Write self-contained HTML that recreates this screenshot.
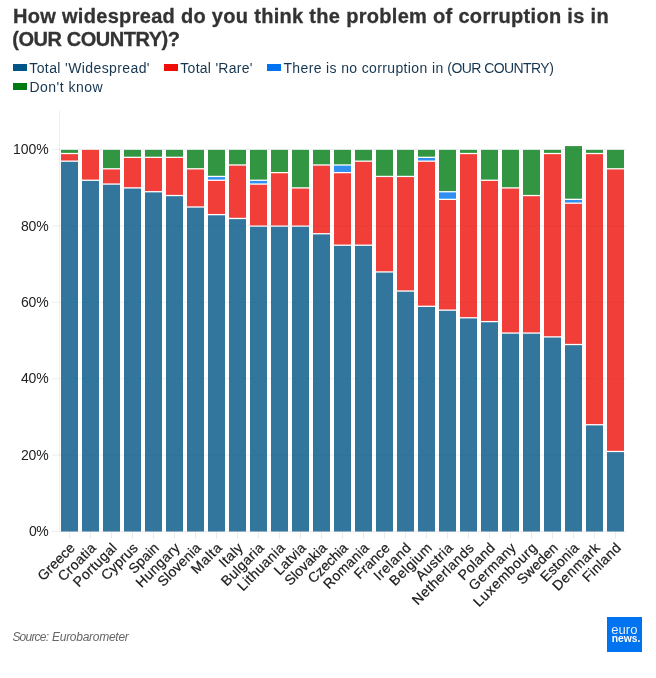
<!DOCTYPE html>
<html lang="en"><head><meta charset="utf-8"><title>How widespread do you think the problem of corruption is in (OUR COUNTRY)?</title>
<style>
html,body{margin:0;padding:0;background:#fff;}
body{width:656px;height:678px;overflow:hidden;}
svg{display:block;}
text{font-family:"Liberation Sans",Arial,Helvetica,sans-serif;}
.title{font-weight:bold;font-size:20px;fill:#333;stroke:#333;stroke-width:0.3px;}
.leg{font-size:14px;fill:#163650;}
.yl{font-size:14px;fill:#222;text-anchor:end;}
.xl{font-size:14px;fill:#1c1c1c;text-anchor:end;stroke:#1c1c1c;stroke-width:0.22px;}
.src{font-size:12px;font-style:italic;fill:#666;}
</style></head><body>
<svg width="656" height="678" viewBox="0 0 656 678">
<rect width="656" height="678" fill="#fff"/>
<text class="title" x="13" y="22.7" textLength="595.6" lengthAdjust="spacing">How widespread do you think the problem of corruption is in</text>
<text class="title" x="12.3" y="46" textLength="167.7" lengthAdjust="spacing">(OUR COUNTRY)?</text>
<rect x="13" y="64" width="14" height="7" fill="#005587"/>
<text class="leg" x="29.3" y="72.7" textLength="120.2" lengthAdjust="spacing">Total 'Widespread'</text>
<rect x="164" y="64" width="14" height="7" fill="#ee0e07"/>
<text class="leg" x="180.3" y="72.7" textLength="72.2" lengthAdjust="spacing">Total 'Rare'</text>
<rect x="267" y="64" width="14" height="7" fill="#0074f0"/>
<text class="leg" y="72.7"><tspan x="283.4" textLength="159.8" lengthAdjust="spacing">There is no corruption in</tspan><tspan> </tspan><tspan x="447.3" textLength="106.5" lengthAdjust="spacing">(OUR COUNTRY)</tspan></text>
<rect x="13" y="83" width="14" height="7" fill="#007b13"/>
<text class="leg" x="29.4" y="91.5" textLength="73.3" lengthAdjust="spacing">Don't know</text>
<g stroke="#0a1f33" stroke-opacity="0.075" stroke-width="1" fill="none">
<line x1="52" x2="626" y1="531.50" y2="531.50"/>
<line x1="52" x2="626" y1="455.10" y2="455.10"/>
<line x1="52" x2="626" y1="378.70" y2="378.70"/>
<line x1="52" x2="626" y1="302.30" y2="302.30"/>
<line x1="52" x2="626" y1="225.90" y2="225.90"/>
<line x1="52" x2="626" y1="149.50" y2="149.50"/>
</g>
<line x1="59.5" x2="59.5" y1="111" y2="531" stroke="#0a1f33" stroke-opacity="0.075" stroke-width="1"/>
<g stroke="#e8eaec" stroke-width="1">
<line x1="69.5" x2="69.5" y1="532" y2="538.5"/>
<line x1="90.5" x2="90.5" y1="532" y2="538.5"/>
<line x1="111.5" x2="111.5" y1="532" y2="538.5"/>
<line x1="132.5" x2="132.5" y1="532" y2="538.5"/>
<line x1="153.5" x2="153.5" y1="532" y2="538.5"/>
<line x1="174.5" x2="174.5" y1="532" y2="538.5"/>
<line x1="195.5" x2="195.5" y1="532" y2="538.5"/>
<line x1="216.5" x2="216.5" y1="532" y2="538.5"/>
<line x1="237.5" x2="237.5" y1="532" y2="538.5"/>
<line x1="258.5" x2="258.5" y1="532" y2="538.5"/>
<line x1="279.5" x2="279.5" y1="532" y2="538.5"/>
<line x1="300.5" x2="300.5" y1="532" y2="538.5"/>
<line x1="321.5" x2="321.5" y1="532" y2="538.5"/>
<line x1="342.5" x2="342.5" y1="532" y2="538.5"/>
<line x1="363.5" x2="363.5" y1="532" y2="538.5"/>
<line x1="384.5" x2="384.5" y1="532" y2="538.5"/>
<line x1="405.5" x2="405.5" y1="532" y2="538.5"/>
<line x1="426.5" x2="426.5" y1="532" y2="538.5"/>
<line x1="447.5" x2="447.5" y1="532" y2="538.5"/>
<line x1="468.5" x2="468.5" y1="532" y2="538.5"/>
<line x1="489.5" x2="489.5" y1="532" y2="538.5"/>
<line x1="510.5" x2="510.5" y1="532" y2="538.5"/>
<line x1="531.5" x2="531.5" y1="532" y2="538.5"/>
<line x1="552.5" x2="552.5" y1="532" y2="538.5"/>
<line x1="573.5" x2="573.5" y1="532" y2="538.5"/>
<line x1="594.5" x2="594.5" y1="532" y2="538.5"/>
<line x1="615.5" x2="615.5" y1="532" y2="538.5"/>
</g>
<text class="yl" x="48.6" y="536.10" textLength="19.6" lengthAdjust="spacing">0%</text>
<text class="yl" x="48.6" y="459.70" textLength="27.6" lengthAdjust="spacing">20%</text>
<text class="yl" x="48.6" y="383.30" textLength="27.6" lengthAdjust="spacing">40%</text>
<text class="yl" x="48.6" y="306.90" textLength="27.6" lengthAdjust="spacing">60%</text>
<text class="yl" x="48.6" y="230.50" textLength="27.6" lengthAdjust="spacing">80%</text>
<text class="yl" x="48.6" y="154.10" textLength="35.6" lengthAdjust="spacing">100%</text>
<g opacity="0.8">
<rect x="61.0" y="161.81" width="17" height="369.69" fill="#005587"/>
<rect x="61.0" y="154.17" width="17" height="6.34" fill="#ee0e07"/>
<rect x="61.0" y="149.90" width="17" height="2.97" fill="#007b13"/>
<rect x="82.0" y="180.91" width="17" height="350.59" fill="#005587"/>
<rect x="82.0" y="149.90" width="17" height="29.71" fill="#ee0e07"/>
<rect x="103.0" y="184.73" width="17" height="346.77" fill="#005587"/>
<rect x="103.0" y="169.45" width="17" height="13.98" fill="#ee0e07"/>
<rect x="103.0" y="149.90" width="17" height="18.25" fill="#007b13"/>
<rect x="124.0" y="188.55" width="17" height="342.95" fill="#005587"/>
<rect x="124.0" y="157.99" width="17" height="29.26" fill="#ee0e07"/>
<rect x="124.0" y="149.90" width="17" height="6.79" fill="#007b13"/>
<rect x="145.0" y="192.37" width="17" height="339.13" fill="#005587"/>
<rect x="145.0" y="157.99" width="17" height="33.08" fill="#ee0e07"/>
<rect x="145.0" y="149.90" width="17" height="6.79" fill="#007b13"/>
<rect x="166.0" y="196.19" width="17" height="335.31" fill="#005587"/>
<rect x="166.0" y="157.99" width="17" height="36.90" fill="#ee0e07"/>
<rect x="166.0" y="149.90" width="17" height="6.79" fill="#007b13"/>
<rect x="187.0" y="207.65" width="17" height="323.85" fill="#005587"/>
<rect x="187.0" y="169.45" width="17" height="36.90" fill="#ee0e07"/>
<rect x="187.0" y="149.90" width="17" height="18.25" fill="#007b13"/>
<rect x="208.0" y="215.29" width="17" height="316.21" fill="#005587"/>
<rect x="208.0" y="180.91" width="17" height="33.08" fill="#ee0e07"/>
<rect x="208.0" y="177.09" width="17" height="2.52" fill="#0074f0"/>
<rect x="208.0" y="149.90" width="17" height="25.89" fill="#007b13"/>
<rect x="229.0" y="219.11" width="17" height="312.39" fill="#005587"/>
<rect x="229.0" y="165.63" width="17" height="52.18" fill="#ee0e07"/>
<rect x="229.0" y="149.90" width="17" height="14.43" fill="#007b13"/>
<rect x="250.0" y="226.75" width="17" height="304.75" fill="#005587"/>
<rect x="250.0" y="184.73" width="17" height="40.72" fill="#ee0e07"/>
<rect x="250.0" y="180.91" width="17" height="2.52" fill="#0074f0"/>
<rect x="250.0" y="149.90" width="17" height="29.71" fill="#007b13"/>
<rect x="271.0" y="226.75" width="17" height="304.75" fill="#005587"/>
<rect x="271.0" y="173.27" width="17" height="52.18" fill="#ee0e07"/>
<rect x="271.0" y="149.90" width="17" height="22.07" fill="#007b13"/>
<rect x="292.0" y="226.75" width="17" height="304.75" fill="#005587"/>
<rect x="292.0" y="188.55" width="17" height="36.90" fill="#ee0e07"/>
<rect x="292.0" y="149.90" width="17" height="37.35" fill="#007b13"/>
<rect x="313.0" y="234.39" width="17" height="297.11" fill="#005587"/>
<rect x="313.0" y="165.63" width="17" height="67.46" fill="#ee0e07"/>
<rect x="313.0" y="149.90" width="17" height="14.43" fill="#007b13"/>
<rect x="334.0" y="245.85" width="17" height="285.65" fill="#005587"/>
<rect x="334.0" y="173.27" width="17" height="71.28" fill="#ee0e07"/>
<rect x="334.0" y="165.63" width="17" height="6.34" fill="#0074f0"/>
<rect x="334.0" y="149.90" width="17" height="14.43" fill="#007b13"/>
<rect x="355.0" y="245.85" width="17" height="285.65" fill="#005587"/>
<rect x="355.0" y="161.81" width="17" height="82.74" fill="#ee0e07"/>
<rect x="355.0" y="149.90" width="17" height="10.61" fill="#007b13"/>
<rect x="376.0" y="272.59" width="17" height="258.91" fill="#005587"/>
<rect x="376.0" y="177.09" width="17" height="94.20" fill="#ee0e07"/>
<rect x="376.0" y="149.90" width="17" height="25.89" fill="#007b13"/>
<rect x="397.0" y="291.69" width="17" height="239.81" fill="#005587"/>
<rect x="397.0" y="177.09" width="17" height="113.30" fill="#ee0e07"/>
<rect x="397.0" y="149.90" width="17" height="25.89" fill="#007b13"/>
<rect x="418.0" y="306.97" width="17" height="224.53" fill="#005587"/>
<rect x="418.0" y="161.81" width="17" height="143.86" fill="#ee0e07"/>
<rect x="418.0" y="157.99" width="17" height="2.52" fill="#0074f0"/>
<rect x="418.0" y="149.90" width="17" height="6.79" fill="#007b13"/>
<rect x="439.0" y="310.79" width="17" height="220.71" fill="#005587"/>
<rect x="439.0" y="200.01" width="17" height="109.48" fill="#ee0e07"/>
<rect x="439.0" y="192.37" width="17" height="6.34" fill="#0074f0"/>
<rect x="439.0" y="149.90" width="17" height="41.17" fill="#007b13"/>
<rect x="460.0" y="318.43" width="17" height="213.07" fill="#005587"/>
<rect x="460.0" y="154.17" width="17" height="162.96" fill="#ee0e07"/>
<rect x="460.0" y="149.90" width="17" height="2.97" fill="#007b13"/>
<rect x="481.0" y="322.25" width="17" height="209.25" fill="#005587"/>
<rect x="481.0" y="180.91" width="17" height="140.04" fill="#ee0e07"/>
<rect x="481.0" y="149.90" width="17" height="29.71" fill="#007b13"/>
<rect x="502.0" y="333.71" width="17" height="197.79" fill="#005587"/>
<rect x="502.0" y="188.55" width="17" height="143.86" fill="#ee0e07"/>
<rect x="502.0" y="149.90" width="17" height="37.35" fill="#007b13"/>
<rect x="523.0" y="333.71" width="17" height="197.79" fill="#005587"/>
<rect x="523.0" y="196.19" width="17" height="136.22" fill="#ee0e07"/>
<rect x="523.0" y="149.90" width="17" height="44.99" fill="#007b13"/>
<rect x="544.0" y="337.53" width="17" height="193.97" fill="#005587"/>
<rect x="544.0" y="154.17" width="17" height="182.06" fill="#ee0e07"/>
<rect x="544.0" y="149.90" width="17" height="2.97" fill="#007b13"/>
<rect x="565.0" y="345.17" width="17" height="186.33" fill="#005587"/>
<rect x="565.0" y="203.83" width="17" height="140.04" fill="#ee0e07"/>
<rect x="565.0" y="200.01" width="17" height="2.52" fill="#0074f0"/>
<rect x="565.0" y="146.08" width="17" height="52.63" fill="#007b13"/>
<rect x="586.0" y="425.39" width="17" height="106.11" fill="#005587"/>
<rect x="586.0" y="154.17" width="17" height="269.92" fill="#ee0e07"/>
<rect x="586.0" y="149.90" width="17" height="2.97" fill="#007b13"/>
<rect x="607.0" y="452.13" width="17" height="79.37" fill="#005587"/>
<rect x="607.0" y="169.45" width="17" height="281.38" fill="#ee0e07"/>
<rect x="607.0" y="149.90" width="17" height="18.25" fill="#007b13"/>
</g>
<text class="xl" transform="translate(75.8,548.8) rotate(-45)" textLength="46.1" lengthAdjust="spacing">Greece</text>
<text class="xl" transform="translate(96.8,548.8) rotate(-45)" textLength="47.1" lengthAdjust="spacing">Croatia</text>
<text class="xl" transform="translate(117.8,548.8) rotate(-45)" textLength="55.1" lengthAdjust="spacing">Portugal</text>
<text class="xl" transform="translate(138.8,548.8) rotate(-45)" textLength="45.5" lengthAdjust="spacing">Cyprus</text>
<text class="xl" transform="translate(159.8,548.8) rotate(-45)" textLength="36.2" lengthAdjust="spacing">Spain</text>
<text class="xl" transform="translate(180.8,548.8) rotate(-45)" textLength="55.7" lengthAdjust="spacing">Hungary</text>
<text class="xl" transform="translate(201.8,548.8) rotate(-45)" textLength="54.4" lengthAdjust="spacing">Slovenia</text>
<text class="xl" transform="translate(222.8,548.8) rotate(-45)" textLength="36.7" lengthAdjust="spacing">Malta</text>
<text class="xl" transform="translate(243.8,548.8) rotate(-45)" textLength="27.2" lengthAdjust="spacing">Italy</text>
<text class="xl" transform="translate(264.8,548.8) rotate(-45)" textLength="53.7" lengthAdjust="spacing">Bulgaria</text>
<text class="xl" transform="translate(285.8,548.8) rotate(-45)" textLength="60.6" lengthAdjust="spacing">Lithuania</text>
<text class="xl" transform="translate(306.8,548.8) rotate(-45)" textLength="38.3" lengthAdjust="spacing">Latvia</text>
<text class="xl" transform="translate(327.8,548.8) rotate(-45)" textLength="53.1" lengthAdjust="spacing">Slovakia</text>
<text class="xl" transform="translate(348.8,548.8) rotate(-45)" textLength="49.8" lengthAdjust="spacing">Czechia</text>
<text class="xl" transform="translate(369.8,548.8) rotate(-45)" textLength="57.8" lengthAdjust="spacing">Romania</text>
<text class="xl" transform="translate(390.8,548.8) rotate(-45)" textLength="43.8" lengthAdjust="spacing">France</text>
<text class="xl" transform="translate(411.8,548.8) rotate(-45)" textLength="46.0" lengthAdjust="spacing">Ireland</text>
<text class="xl" transform="translate(432.8,548.8) rotate(-45)" textLength="53.3" lengthAdjust="spacing">Belgium</text>
<text class="xl" transform="translate(453.8,548.8) rotate(-45)" textLength="46.1" lengthAdjust="spacing">Austria</text>
<text class="xl" transform="translate(474.8,548.8) rotate(-45)" textLength="80.7" lengthAdjust="spacing">Netherlands</text>
<text class="xl" transform="translate(495.8,548.8) rotate(-45)" textLength="45.4" lengthAdjust="spacing">Poland</text>
<text class="xl" transform="translate(516.8,548.8) rotate(-45)" textLength="60.2" lengthAdjust="spacing">Germany</text>
<text class="xl" transform="translate(537.8,548.8) rotate(-45)" textLength="83.1" lengthAdjust="spacing">Luxembourg</text>
<text class="xl" transform="translate(558.8,548.8) rotate(-45)" textLength="51.5" lengthAdjust="spacing">Sweden</text>
<text class="xl" transform="translate(579.8,548.8) rotate(-45)" textLength="47.8" lengthAdjust="spacing">Estonia</text>
<text class="xl" transform="translate(600.8,548.8) rotate(-45)" textLength="60.5" lengthAdjust="spacing">Denmark</text>
<text class="xl" transform="translate(621.8,548.8) rotate(-45)" textLength="47.9" lengthAdjust="spacing">Finland</text>
<text class="src" y="641.2"><tspan x="12.4" textLength="36.6" lengthAdjust="spacing">Source:</tspan><tspan> </tspan><tspan x="52" textLength="76.8" lengthAdjust="spacing">Eurobarometer</tspan></text>
<rect x="607" y="617" width="35" height="35" fill="#0073f0"/>
<text x="611.3" y="634" font-size="12.2" fill="#fff" fill-opacity="0.88" textLength="26.2" lengthAdjust="spacingAndGlyphs" style="font-weight:normal">euro</text>
<text x="611.8" y="642" font-size="11.3" fill="#fff" textLength="28.6" lengthAdjust="spacingAndGlyphs" style="font-weight:bold">news.</text>
</svg></body></html>
